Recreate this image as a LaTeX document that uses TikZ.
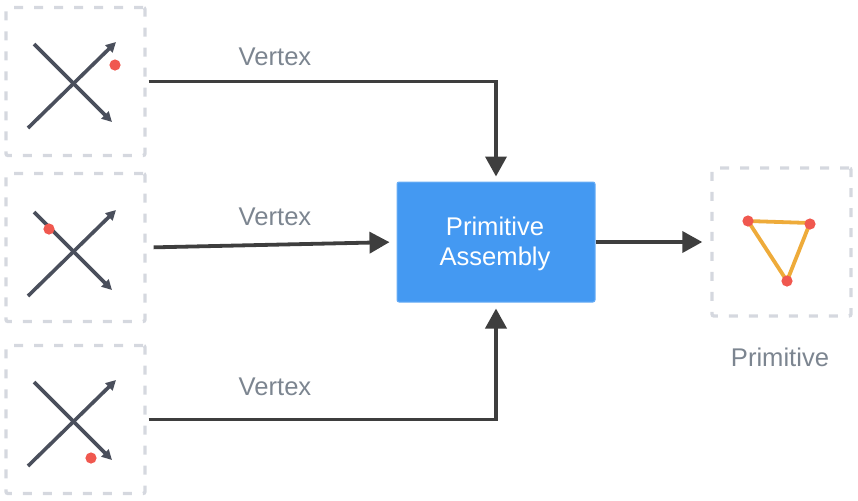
\documentclass[tikz,border=0pt]{standalone}
\usepackage{fontspec}
\setmainfont{Liberation Sans}
\usetikzlibrary{arrows.meta}
\definecolor{framegray}{HTML}{D5D8DF}
\definecolor{crossgray}{HTML}{4A4F5C}
\definecolor{arrowgray}{HTML}{3E3E3E}
\definecolor{labelgray}{HTML}{7C8590}
\definecolor{dotred}{HTML}{F0584F}
\definecolor{triorange}{HTML}{EEAB3A}
\definecolor{asmblue}{HTML}{4499F2}
\tikzset{
  framebox/.style={draw=framegray, line width=1.7pt, dash pattern=on 4.5pt off 5.5pt, rounded corners=1pt,
    minimum width=69.5pt, minimum height=74pt, inner sep=0pt},
  flowarrow/.style={draw=arrowgray, line width=1.9pt, -{Triangle[length=10pt,width=10.5pt]}},
  crossline/.style={draw=crossgray, line width=1.8pt},
  labeltext/.style={text=labelgray, font=\fontsize{12.8pt}{15pt}\selectfont, inner sep=0pt},
  reddot/.style={fill=dotred, radius=2.8pt}
}
\begin{document}
\begin{tikzpicture}[x=0.5pt, y=-0.5pt]
  \useasboundingbox (0,0) rectangle (858,500);

  % vertex frames on the left
  \node[framebox] (frameA) at (75.5,81.5) {};
  \node[framebox] (frameB) at (75.5,247.5) {};
  \node[framebox] (frameC) at (75.5,419.5) {};

  \foreach \dy/\dotx/\doty in {0/115/65, 168/49/229, 338/91/458} {
    \draw[crossline, -{Triangle[length=5pt,width=5pt]}] (28,128+\dy) -- (116,42+\dy);
    \draw[crossline, -{Triangle[length=5pt,width=5pt]}] (34,44+\dy) -- (112,122+\dy);
    \fill[reddot] (\dotx,\doty) circle;
  }

  \node[fill=asmblue, draw=asmblue!80!white, line width=0.5pt, rounded corners=1pt, minimum width=99pt, minimum height=60pt,
    inner sep=0pt] (assembly) at (496,242) {};
  \node[align=center, text=white, font=\fontsize{12.8pt}{15pt}\selectfont, inner sep=0pt] (assemblyText) at (495,244) {Primitive\\Assembly};

  % output frame with triangle
  \node[framebox] (frameOut) at (781.5,242) {};
  \draw[line width=1.9pt, triorange] (748,221) -- (810,223) -- (787,281) -- cycle;
  \foreach \px/\py in {748/221, 810/224, 787/281} {
    \fill[reddot] (\px,\py) circle;
  }

  \draw[flowarrow, shorten <=1pt, shorten >=2.5pt] (frameA.east) -| (assembly.north);
  \draw[flowarrow, shorten <=3.5pt, shorten >=3.5pt] (frameB.east) -- (assembly.west);
  \draw[flowarrow, shorten <=1pt, shorten >=3pt] (frameC.east) -| (assembly.south);
  \draw[flowarrow, shorten >=4pt] (assembly.east) -- (frameOut.west);

  \node[labeltext] (labelA) at (275,57) {Vertex};
  \node[labeltext] (labelB) at (275,217) {Vertex};
  \node[labeltext] (labelC) at (275,387) {Vertex};
  \node[labeltext] (labelOut) at (780,357) {Primitive};
\end{tikzpicture}
\end{document}
